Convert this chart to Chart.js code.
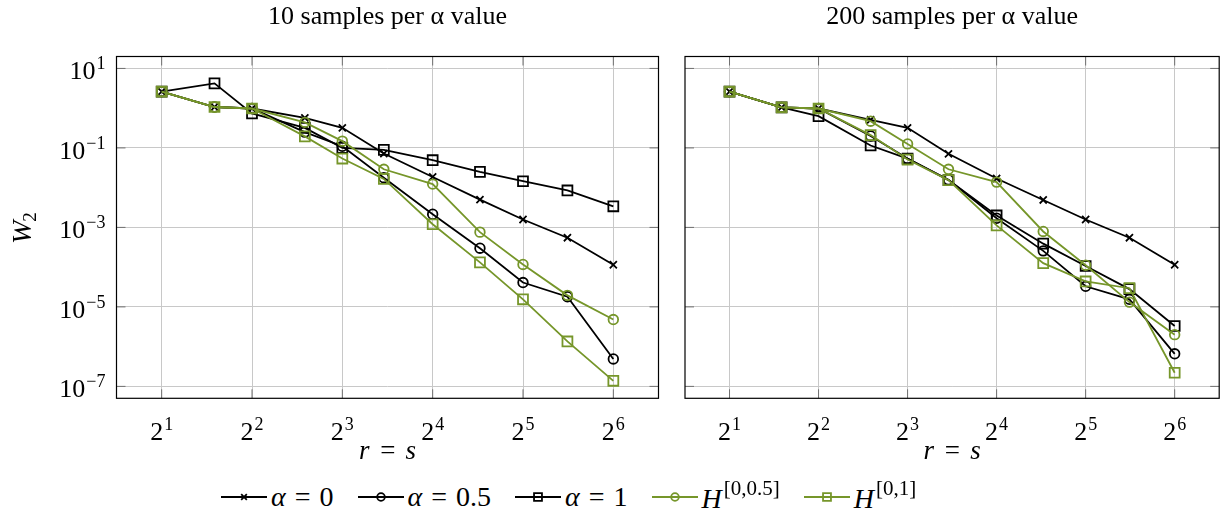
<!DOCTYPE html>
<html>
<head>
<meta charset="utf-8">
<script src="https://cdn.jsdelivr.net/npm/chart.js@4.4.1/dist/chart.umd.min.js"></script>
<style>
  html, body { margin: 0; padding: 0; background: #fff; }
  #wrap { position: relative; width: 1228px; height: 519px; overflow: hidden; }
  #left { position: absolute; left: 0; top: 0; }
  #right { position: absolute; left: 670px; top: 0; }
  #legend {
    position: absolute; left: 221px; top: 477px; height: 40px;
    display: flex; align-items: center; white-space: nowrap;
    font-family: 'Liberation Serif', serif; font-size: 28px; color: #000;
  }
  .item { display: flex; align-items: center; margin-right: 24px; }
  .item canvas { margin-right: 4px; }
  .item i { font-style: italic; }
  .item .rel { margin: 0 9px; }
  .item sup { font-size: 21px; position: relative; top: -3px; margin-left: 2px; }
</style>
</head>
<body>
<div id="wrap">
  <canvas id="left" width="670" height="470"></canvas>
  <canvas id="right" width="558" height="470"></canvas>
  <div id="legend"></div>
</div>
<script>
// problem sizes r = s
var rs = [2, 3, 4, 6, 8, 11, 16, 23, 32, 45, 64];

// W2 error, 10 samples per alpha value
var a0_10  = [2.6, 1.07, 0.98, 0.57, 0.32, 0.072, 0.0186, 0.0050, 0.00158, 0.00055, 0.000115];
var a05_10 = [2.6, 1.07, 0.98, 0.25, 0.11, 0.0178, 0.00214, 0.0003, 0.000041, 0.000018, 0.00000049];
var a1_10  = [2.6, 4.2, 0.74, 0.32, 0.10, 0.089, 0.049, 0.025, 0.0145, 0.0085, 0.0034];
var h05_10 = [2.6, 1.07, 0.98, 0.44, 0.148, 0.029, 0.0123, 0.00076, 0.000117, 0.0000195, 0.0000048];
var h1_10  = [2.6, 1.07, 0.98, 0.195, 0.054, 0.0166, 0.0012, 0.000132, 0.0000155, 0.00000135, 0.000000138];

// W2 error, 200 samples per alpha value
var a0_200  = [2.6, 1.05, 0.98, 0.51, 0.32, 0.071, 0.017, 0.0049, 0.00158, 0.00055, 0.000115];
var a05_200 = [2.6, 1.05, 0.98, 0.20, 0.054, 0.0158, 0.0017, 0.000257, 0.000033, 0.0000155, 0.00000066];
var a1_200  = [2.6, 1.05, 0.63, 0.115, 0.054, 0.0155, 0.0020, 0.00039, 0.000107, 0.000028, 0.0000033];
var h05_200 = [2.6, 1.05, 0.98, 0.47, 0.126, 0.029, 0.0138, 0.00079, 0.000112, 0.0000132, 0.0000020];
var h1_200  = [2.6, 1.05, 0.98, 0.21, 0.051, 0.0155, 0.00112, 0.000126, 0.0000437, 0.0000295, 0.00000022];

// tick exponents: 2^k on x, 10^k on y
var xTickExp = [1, 2, 3, 4, 5, 6];
var yTickExp = [1, -1, -3, -5, -7];

var titles = ['10 samples per α value', '200 samples per α value'];

var black = '#000000';
var green = '#76962a';

var series = [
  { label: '<i>α</i><span class="rel">=</span>0',   color: black, style: 'crossRot', radius: 5 },
  { label: '<i>α</i><span class="rel">=</span>0.5', color: black, style: 'circle',   radius: 4.8 },
  { label: '<i>α</i><span class="rel">=</span>1',   color: black, style: 'rect',     radius: 7 },
  { label: '<i>H</i><sup>[0,0.5]</sup>', color: green, style: 'circle', radius: 4.8 },
  { label: '<i>H</i><sup>[0,1]</sup>',   color: green, style: 'rect',   radius: 7 }
];

var serif = "'Liberation Serif', serif";
var baseFont = '26px ' + serif;
var expFont = '18px ' + serif;

function pairs(ys) {
  return rs.map(function (r, i) { return { x: r, y: ys[i] }; });
}

function makeDatasets(lists) {
  return lists.map(function (ys, i) {
    var s = series[i];
    return {
      label: s.label,
      data: pairs(ys),
      borderColor: s.color,
      borderWidth: 1.8,
      pointStyle: s.style,
      pointRadius: s.radius,
      pointBorderColor: s.color,
      pointBorderWidth: 1.8,
      pointBackgroundColor: 'rgba(0,0,0,0)',
      fill: false,
      tension: 0,
      order: lists.length - i
    };
  });
}

function drawPower(ctx, base, exp, x, y, align) {
  var expText = String(exp).replace('-', '\u2212');
  ctx.font = baseFont;
  var bw = ctx.measureText(base).width;
  ctx.font = expFont;
  var ew = ctx.measureText(expText).width;
  var total = bw + 1 + ew;
  var x0 = align === 'right' ? x - total : x - total / 2;
  ctx.textAlign = 'left';
  ctx.font = baseFont;
  ctx.fillText(base, x0, y);
  ctx.font = expFont;
  ctx.fillText(expText, x0 + bw + 1, y - 10);
}

// box around the plot, inward ticks on all sides, power tick labels and W2
var frame = {
  id: 'frame',
  afterDraw: function (chart, args, opts) {
    var ctx = chart.ctx, a = chart.chartArea, len = 9;
    var xs = chart.scales.x, ys = chart.scales.y;
    ctx.save();
    ctx.strokeStyle = '#707070';
    ctx.lineWidth = 1;
    ctx.beginPath();
    xs.ticks.forEach(function (t) {
      var px = xs.getPixelForValue(t.value);
      ctx.moveTo(px, a.top); ctx.lineTo(px, a.top + len);
      ctx.moveTo(px, a.bottom); ctx.lineTo(px, a.bottom - len);
    });
    ys.ticks.forEach(function (t) {
      var py = ys.getPixelForValue(t.value);
      ctx.moveTo(a.left, py); ctx.lineTo(a.left + len, py);
      ctx.moveTo(a.right, py); ctx.lineTo(a.right - len, py);
    });
    ctx.stroke();
    ctx.strokeStyle = '#000';
    ctx.lineWidth = 1.2;
    ctx.strokeRect(a.left, a.top, a.right - a.left, a.bottom - a.top);

    ctx.fillStyle = '#000';
    ctx.textBaseline = 'alphabetic';
    xs.ticks.forEach(function (t) {
      var px = xs.getPixelForValue(t.value);
      drawPower(ctx, '2', Math.round(Math.log2(t.value)), px, a.bottom + 42, 'center');
    });
    if (opts.yLabels) {
      ys.ticks.forEach(function (t) {
        var py = ys.getPixelForValue(t.value);
        drawPower(ctx, '10', Math.round(Math.log10(t.value)), a.left - 11, py + 11, 'right');
      });
      // y axis title W_2, rotated
      ctx.translate(31, (a.top + a.bottom) / 2);
      ctx.rotate(-Math.PI / 2);
      ctx.font = 'italic 28px ' + serif;
      var ww = ctx.measureText('W').width;
      ctx.fillText('W', -ww / 2 - 5, 0);
      ctx.font = '19px ' + serif;
      ctx.fillText('2', ww / 2 - 6, 5);
    }
    ctx.restore();
  }
};

function makeChart(id, title, lists, yWidth, padRight, yLabels) {
  return new Chart(document.getElementById(id), {
    type: 'line',
    data: { datasets: makeDatasets(lists) },
    plugins: [frame],
    options: {
      responsive: false,
      animation: false,
      events: [],
      layout: { padding: { left: 0, right: padRight, top: 0, bottom: 0 } },
      plugins: {
        legend: { display: false },
        tooltip: { enabled: false },
        title: {
          display: true,
          text: title,
          fullSize: false,
          color: '#000',
          font: { family: serif, size: 26, weight: 'normal', lineHeight: 1.2 },
          padding: { top: 2, bottom: 23.3 }
        },
        frame: { yLabels: yLabels }
      },
      scales: {
        x: {
          type: 'logarithmic',
          min: Math.SQRT2,
          max: 64 * Math.SQRT2,
          afterBuildTicks: function (s) {
            s.ticks = xTickExp.map(function (e) { return { value: Math.pow(2, e) }; });
          },
          afterFit: function (s) { s.height = 71.7; },
          ticks: { display: false },
          grid: { color: '#c8c8c8', lineWidth: 1, drawTicks: false },
          border: { display: false },
          title: {
            display: true,
            text: 'r\u2004=\u2004s',
            color: '#000',
            font: { family: serif, size: 27, style: 'italic', lineHeight: 1.2 },
            padding: { top: 0, bottom: 2 }
          }
        },
        y: {
          type: 'logarithmic',
          min: Math.pow(10, -7.3),
          max: Math.pow(10, 1.3),
          afterBuildTicks: function (s) {
            s.ticks = yTickExp.map(function (e) { return { value: Math.pow(10, e) }; });
          },
          afterFit: function (s) { s.width = yWidth; },
          ticks: { display: false },
          grid: { color: '#c8c8c8', lineWidth: 1, drawTicks: false },
          border: { display: false },
          title: { display: false }
        }
      }
    }
  });
}

makeChart('left', titles[0], [a0_10, a05_10, a1_10, h05_10, h1_10], 116.5, 11.5, true);
makeChart('right', titles[1], [a0_200, a05_200, a1_200, h05_200, h1_200], 15, 1.4, false);

// shared legend below both panels
var legend = document.getElementById('legend');
series.forEach(function (s) {
  var item = document.createElement('div');
  item.className = 'item';
  var c = document.createElement('canvas');
  c.width = 46; c.height = 20;
  var g = c.getContext('2d');
  g.strokeStyle = s.color;
  g.fillStyle = 'rgba(0,0,0,0)';
  g.lineWidth = 1.8;
  g.beginPath(); g.moveTo(0, 10); g.lineTo(46, 10); g.stroke();
  Chart.helpers.drawPoint(g, { pointStyle: s.style, radius: s.radius * 0.8, rotation: 0, borderWidth: 1.8 }, 23, 10);
  item.appendChild(c);
  var t = document.createElement('span');
  t.innerHTML = s.label;
  item.appendChild(t);
  legend.appendChild(item);
});
</script>
</body>
</html>
